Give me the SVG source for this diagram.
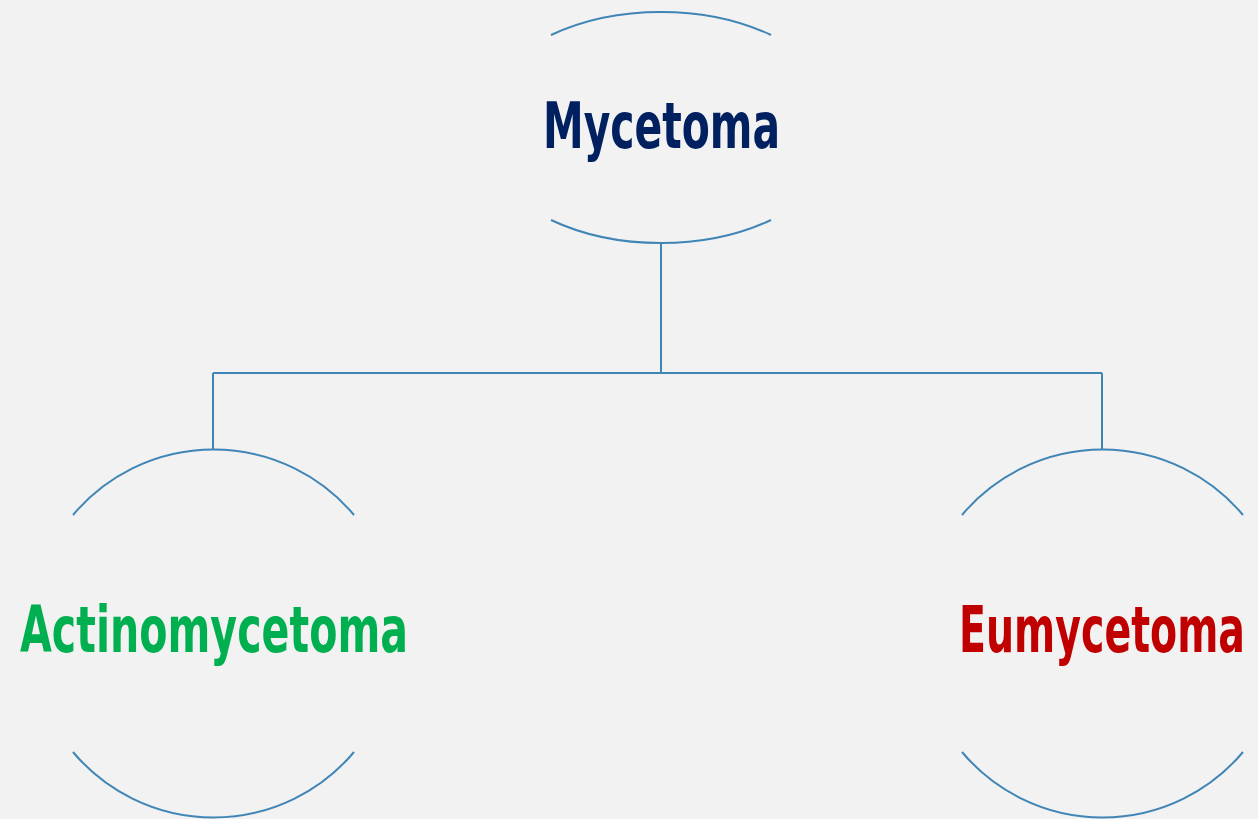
<svg xmlns="http://www.w3.org/2000/svg" width="1258" height="819" viewBox="0 0 1258 819">
<style>
.arc{fill:none;stroke:#3f85b5;stroke-width:2}
.con{fill:none;stroke:#3f85b5;stroke-width:2}
.lbl{font-family:"DejaVu Sans Condensed","DejaVu Sans","Liberation Sans",sans-serif;font-weight:bold;font-size:64px;text-anchor:middle}
</style>
<rect width="1258" height="819" fill="#f2f2f2"/>
<g id="connectors">
<path class="con" d="M661,243 V373 M213,373 H1102 M213,373 V450 M1102,373 V450"/>
</g>
<g id="node-mycetoma">
<path class="arc" d="M551,35 A183.5,115.5 0 0 1 771,35"/>
<path class="arc" d="M551,220 A183.5,115.5 0 0 0 771,220"/>
<text class="lbl" x="661.5" y="148" fill="#002060" textLength="237" lengthAdjust="spacingAndGlyphs">Mycetoma</text>
</g>
<g id="node-actinomycetoma">
<path class="arc" d="M73,515 A183.5,183.5 0 0 1 354,515"/>
<path class="arc" d="M73,752 A183.5,183.5 0 0 0 354,752"/>
<text class="lbl" x="214" y="652" fill="#00b050" textLength="388" lengthAdjust="spacingAndGlyphs">Actinomycetoma</text>
</g>
<g id="node-eumycetoma">
<path class="arc" d="M962,515 A183.5,183.5 0 0 1 1243,515"/>
<path class="arc" d="M962,752 A183.5,183.5 0 0 0 1243,752"/>
<text class="lbl" x="1102" y="652" fill="#c00000" textLength="286" lengthAdjust="spacingAndGlyphs">Eumycetoma</text>
</g>
</svg>
